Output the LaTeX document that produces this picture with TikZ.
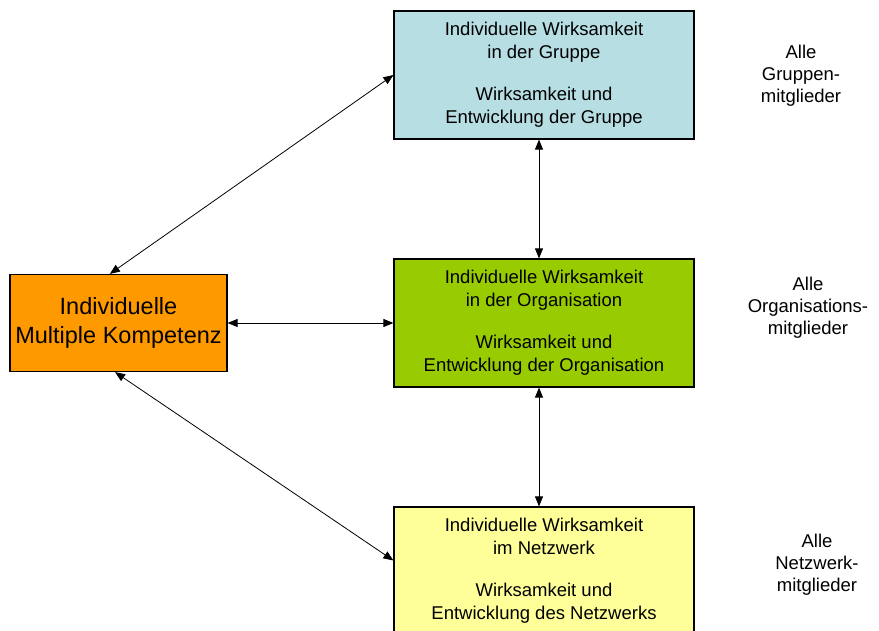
\documentclass[tikz,border=0pt]{standalone}
\usepackage{fontspec}
\setmainfont{Liberation Sans}
\usetikzlibrary{arrows.meta}

\definecolor{gruppeblau}{RGB}{183,222,227}
\definecolor{orgagruen}{RGB}{153,204,0}
\definecolor{kompetenzorange}{RGB}{255,153,0}
\definecolor{netzgelb}{RGB}{255,255,153}

\tikzset{
    ebene/.style={draw=black, line width=1.2pt, minimum width=300pt, minimum height=128pt,
        inner sep=0pt, align=center, font=\fontsize{18.5}{23}\selectfont},
    mitglieder/.style={align=center, font=\fontsize{18.5}{22}\selectfont},
    pfeil/.style={line width=0.8pt, {Triangle[length=10pt,width=8pt]}-{Triangle[length=10pt,width=8pt]}}
}

\begin{document}
\begin{tikzpicture}[x=1pt,y=-1pt]
                % Rahmen (Pixelmaße des Bildes)
                \useasboundingbox (0,0) rectangle (879,630);
                \clip (0,0) rectangle (879,630);

                % Kästen
                \node[ebene, fill=kompetenzorange, minimum width=217pt, minimum height=97pt,
                      font=\fontsize{23.5}{29}\selectfont] (kompetenz) at (118.5,323)
                    {Individuelle\\Multiple Kompetenz};
                \node[ebene, fill=gruppeblau] (gruppe) at (544,75)
                    {Individuelle Wirksamkeit\\in der Gruppe\\[19pt]Wirksamkeit und\\Entwicklung der Gruppe};
                \node[ebene, fill=orgagruen] (organisation) at (544,323)
                    {Individuelle Wirksamkeit\\in der Organisation\\[19pt]Wirksamkeit und\\Entwicklung der Organisation};
                \node[ebene, fill=netzgelb] (netzwerk) at (544,571)
                    {Individuelle Wirksamkeit\\im Netzwerk\\[19pt]Wirksamkeit und\\Entwicklung des Netzwerks};

                % Beschriftung rechts
                \node[mitglieder] (mgruppe) at (801,76) {Alle\\Gruppen-\\mitglieder};
                \node[mitglieder] (morganisation) at (808,308) {Alle\\Organisations-\\mitglieder};
                \node[mitglieder] (mnetzwerk) at (817,565) {Alle\\Netzwerk-\\mitglieder};

                % Pfeile
                \draw[pfeil] (gruppe.west) -- (kompetenz.100);
                \draw[pfeil] (kompetenz.east) -- (organisation.west);
                \draw[pfeil] (kompetenz.266) -- (netzwerk.176);
                \draw[pfeil] ([xshift=-5pt]gruppe.south) -- ([xshift=-5pt]organisation.north);
                \draw[pfeil] ([xshift=-5pt]organisation.south) -- ([xshift=-5pt]netzwerk.north);
            \end{tikzpicture}
\end{document}
